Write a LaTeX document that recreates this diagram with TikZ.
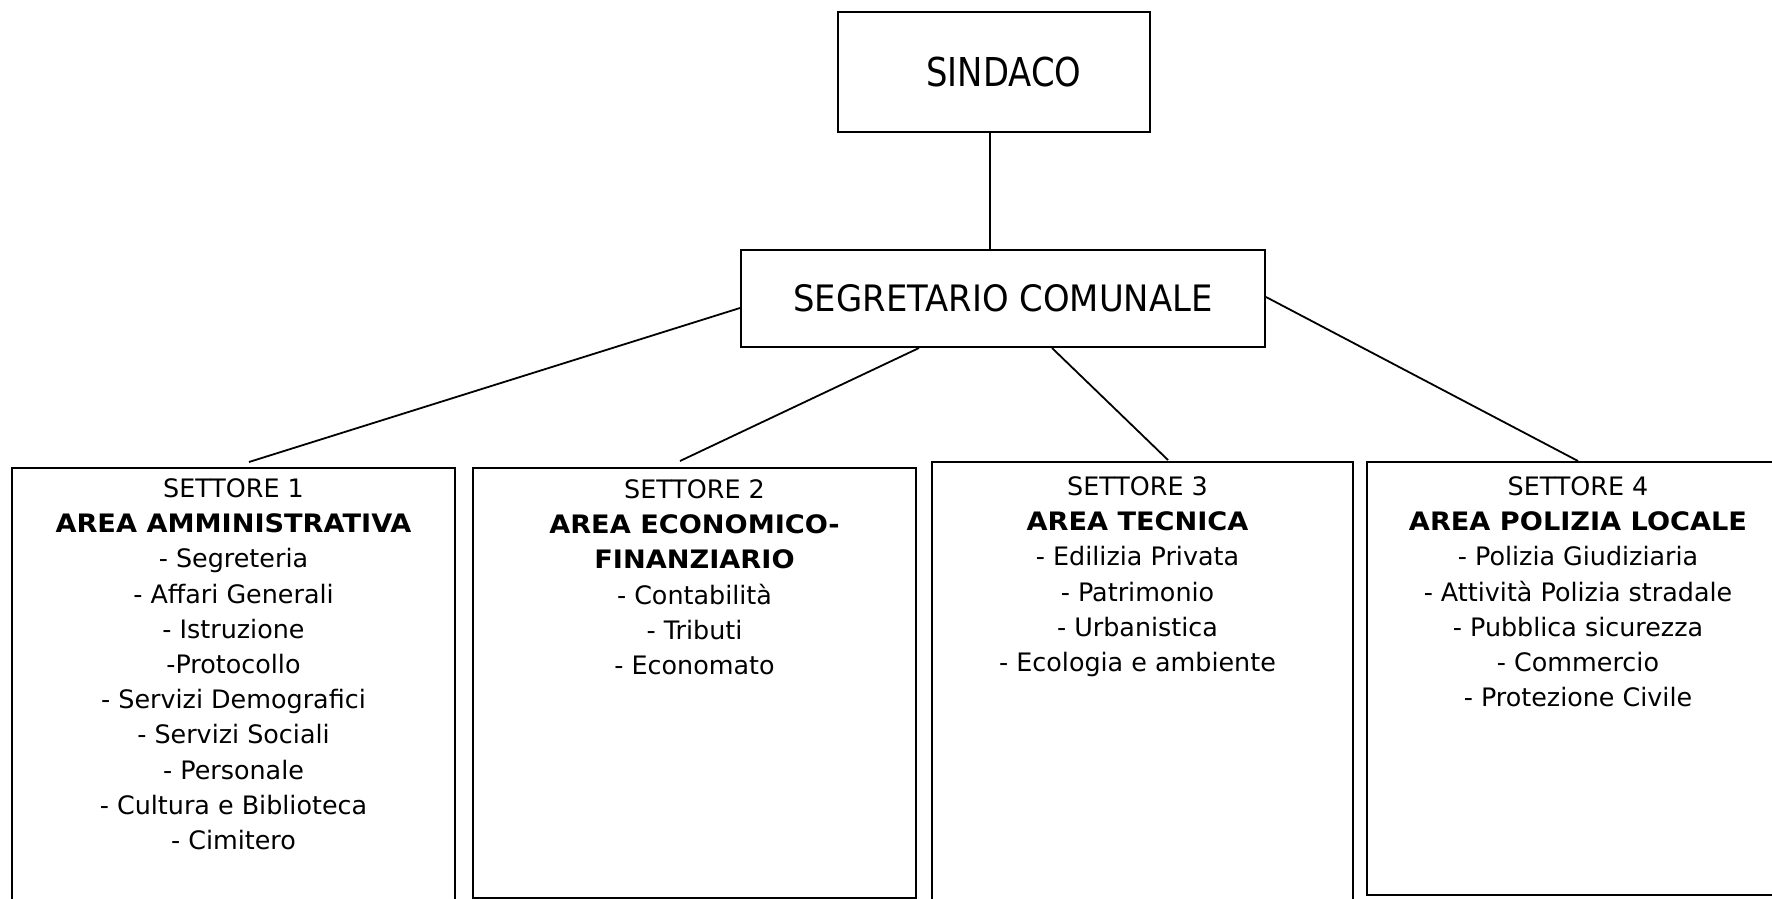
\documentclass[tikz,border=0pt]{standalone}
\usepackage{fontspec}
\setmainfont{DejaVu Sans}
\newfontfamily\topA[FakeStretch=0.85]{DejaVu Sans}
\newfontfamily\topB[FakeStretch=0.93]{DejaVu Sans}
\newfontfamily\boldw[FakeStretch=1.07]{DejaVu Sans Bold}
\begin{document}
\begin{tikzpicture}[x=1pt,y=-1pt,
  box/.style={draw=black, line width=2pt, inner sep=0pt, anchor=north west, fill=none},
  conn/.style={draw=black, line width=1.8pt},
  lbl/.style={anchor=north, inner sep=0pt, align=center, font=\fontsize{25.4}{35.2}\selectfont}
]
\useasboundingbox (0,0) rectangle (1772,899);
\clip (0,0) rectangle (1772,899);
% top boxes
\node[box, minimum width=312pt, minimum height=120pt, font=\topA\fontsize{39.8}{45}\selectfont] (sind) at (837,11) {\hspace*{20pt}SINDACO};
\node[box, minimum width=524pt, minimum height=97pt, font=\topB\fontsize{36.4}{42}\selectfont] (seg) at (740,249) {SEGRETARIO COMUNALE};
% sector boxes
\node[box, minimum width=443pt, minimum height=450pt] (s1) at (11,467) {};
\node[box, minimum width=443pt, minimum height=430pt] (s2) at (472,467) {};
\node[box, minimum width=421pt, minimum height=450pt] (s3) at (931,461) {};
\node[box, minimum width=414pt, minimum height=433pt] (s4) at (1366,461) {};
% texts
\node[lbl] (t1) at ([yshift=-11.5pt]s1.north) {SETTORE 1\\{\boldw AREA AMMINISTRATIVA}\\- Segreteria\\- Affari Generali\\- Istruzione\\-Protocollo\\- Servizi Demografici\\- Servizi Sociali\\- Personale\\- Cultura e Biblioteca\\- Cimitero};
\node[lbl] (t2) at ([yshift=-12.5pt]s2.north) {SETTORE 2\\{\boldw AREA ECONOMICO-}\\{\boldw FINANZIARIO}\\- Contabilità\\- Tributi\\- Economato};
\node[lbl] (t3) at ([xshift=-5pt,yshift=-15.5pt]s3.north) {SETTORE 3\\{\boldw AREA TECNICA}\\- Edilizia Privata\\- Patrimonio\\- Urbanistica\\- Ecologia e ambiente};
\node[lbl] (t4) at ([xshift=4pt,yshift=-15.5pt]s4.north) {SETTORE 4\\{\boldw AREA POLIZIA LOCALE}\\- Polizia Giudiziaria\\- Attività Polizia stradale\\- Pubblica sicurezza\\- Commercio\\- Protezione Civile};
% connectors
\draw[conn] ([xshift=-4pt]sind.south) -- ([xshift=-4pt]sind.south |- seg.north);
\draw[conn] ([yshift=-9.5pt]seg.west) -- ([xshift=15.5pt,yshift=5pt]s1.north);
\draw[conn] ([xshift=-84pt]seg.south) -- ([xshift=-14.5pt,yshift=6pt]s2.north);
\draw[conn] ([xshift=49pt]seg.south) -- ([xshift=25.5pt,yshift=1pt]s3.north);
\draw[conn] ([yshift=1.5pt]seg.east) -- ([xshift=4pt]s4.north);
\end{tikzpicture}
\end{document}
